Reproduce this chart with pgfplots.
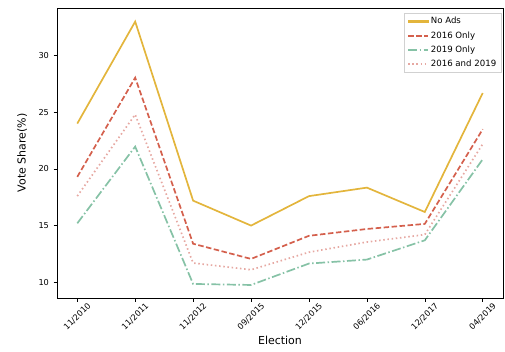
\documentclass[border=0pt]{standalone}
\usepackage{fontspec}
\setmainfont{DejaVu Sans}
\usepackage{pgfplots}
\pgfplotsset{compat=1.18}
\definecolor{cgold}{HTML}{E3B53C}
\definecolor{cred}{HTML}{D4604D}
\definecolor{cgreen}{HTML}{86C2A6}
\definecolor{cpink}{HTML}{E6A8A2}
\begin{document}
\begin{tikzpicture}
\useasboundingbox (-57pt,-53pt) rectangle (448pt,298pt);
\begin{axis}[
  scale only axis,
  width=446pt, height=290pt,
  xmin=-0.35, xmax=7.35,
  ymin=8.61, ymax=34.2,
  xtick={0,1,2,3,4,5,6,7},
  xticklabels={11/2010,11/2011,11/2012,09/2015,12/2015,06/2016,12/2017,04/2019},
  ytick={10,15,20,25,30},
  tick align=outside,
  major tick length=3.5pt,
  tick style={black, line width=0.6pt},
  axis line style={line width=0.8pt},
  xtick pos=bottom, ytick pos=left,
  /pgf/number format/assume math mode=true,
  ticklabel style={font=\fontsize{8.2}{10}\selectfont},
  xticklabel style={anchor=center, yshift=-15pt, rotate=45},
  yticklabel style={xshift=-1pt},
  xlabel={Election},
  ylabel={Vote Share(\%)},
  label style={font=\fontsize{11}{13}\selectfont},
  xlabel style={at={(axis description cs:0.5,-0.159)}, anchor=base},
  ylabel style={at={(axis description cs:-0.078,0.5)}, anchor=center},
  legend style={at={(axis description cs:0.9955,0.982)}, anchor=north east,
    draw=black!18, fill=white,
    font={\fontsize{8.6}{10}\selectfont},
    inner xsep=2.5pt, inner ysep=2pt, row sep=2.2pt,
    nodes={anchor=west}},
]
\addplot[forget plot, color=cgold, line width=1.7pt] coordinates {(0,24.0) (1,33.0) (2,17.2) (3,15.0) (4,17.6) (5,18.35) (6,16.2) (7,26.7)};
\addplot[forget plot, color=cred, line width=1.7pt, dash pattern=on 5.5pt off 2.5pt] coordinates {(0,19.3) (1,28.05) (2,13.4) (3,12.06) (4,14.1) (5,14.7) (6,15.15) (7,23.5)};
\addplot[forget plot, color=cgreen, line width=1.7pt, dash pattern=on 9pt off 2.5pt on 1.5pt off 2.5pt] coordinates {(0,15.2) (1,21.97) (2,9.85) (3,9.76) (4,11.65) (5,12.0) (6,13.7) (7,20.85)};
\addplot[forget plot, color=cpink, line width=1.7pt, dash pattern=on 1.5pt off 2.7pt] coordinates {(0,17.6) (1,24.8) (2,11.7) (3,11.1) (4,12.65) (5,13.55) (6,14.2) (7,22.2)};
\addlegendimage{legend image code/.code={\path (0pt,0pt); \fill[cgold] (0pt,-0.85pt) rectangle (20pt,0.85pt); \draw[cgold, line width=1.7pt] (0pt,0pt) -- (20pt,0pt);}}
\addlegendentry{No Ads}
\addlegendimage{legend image code/.code={\draw[cred, line width=1.7pt, dash pattern=on 5.5pt off 2.5pt] (0pt,0pt) -- (20pt,0pt);}}
\addlegendentry{2016 Only}
\addlegendimage{legend image code/.code={\draw[cgreen, line width=1.7pt, dash pattern=on 9pt off 2.5pt on 1.5pt off 2.5pt] (0pt,0pt) -- (20pt,0pt);}}
\addlegendentry{2019 Only}
\addlegendimage{legend image code/.code={\draw[cpink, line width=1.7pt, dash pattern=on 1.5pt off 2.7pt] (0pt,0pt) -- (20pt,0pt);}}
\addlegendentry{2016 and 2019}
\end{axis}
\end{tikzpicture}
\end{document}
